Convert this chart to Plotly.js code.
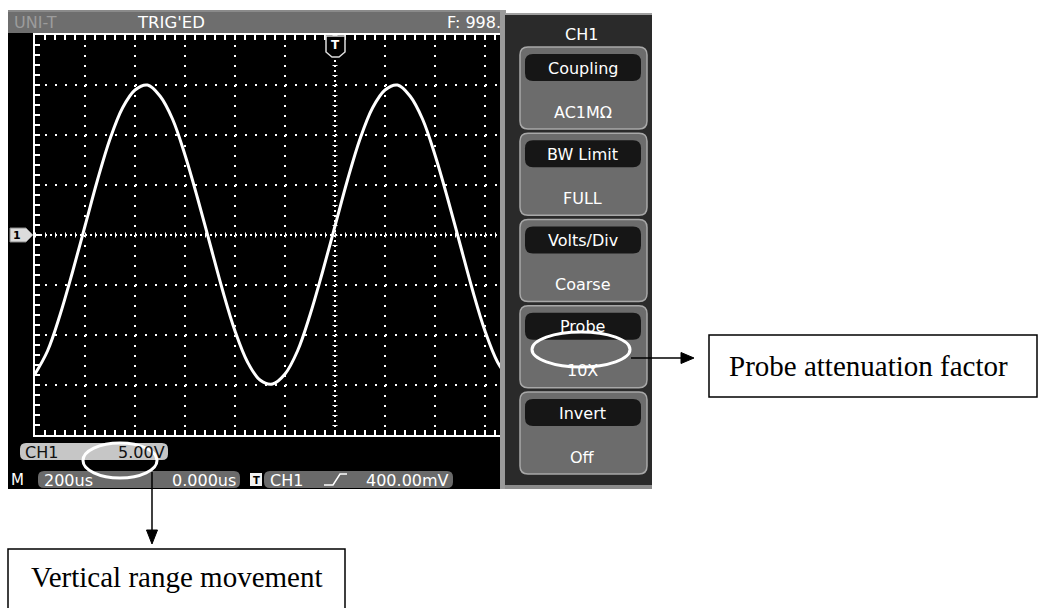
<!DOCTYPE html>
<html><head><meta charset="utf-8">
<script src="https://cdn.plot.ly/plotly-3.0.1.min.js"></script>
<style>html,body{margin:0;padding:0;background:#fff}#chart{width:1039px;height:608px}</style>
</head><body><div id="chart"></div>
<script>
// ---- data (time in microseconds, CH1 in volts) ----
const timeUs = [-1200,-1150,-1100,-1050,-1000,-950,-900,-850,-800,-750,-700,-650,-600,-550,-500,-450,-400,-350,-300,-250,-200,-150,-100,-50,0,50,100,150,200,250,300,350,400,450,500,550,600,650,700];
const ch1Volts = [-13.9,-11.6,-8.0,-3.7,0.9,5.5,9.6,12.7,14.5,15.0,13.9,11.6,8.0,3.7,-0.9,-5.5,-9.6,-12.7,-14.5,-14.9,-13.9,-11.6,-8.0,-3.7,0.9,5.5,9.6,12.7,14.5,15.0,13.9,11.6,8.0,3.7,-0.9,-5.5,-9.6,-12.7,-14.5];
const menuTitle = 'CH1';
const menuLabels = ['Coupling','BW Limit','Volts/Div','Probe','Invert'];
const menuValues = ['AC1MΩ','FULL','Coarse','10X','Off'];
const topBar = ['UNI-T', "TRIG'ED", 'F: 998.'];
const chScale = ['CH1','5.00V'];
const timebase = ['M','200us','0.000us'];
const trigInfo = ['T','CH1','400.00mV'];
const callouts = ['Probe attenuation factor','Vertical range movement'];

// ---- pixel -> paper helpers (plot area = scope grid) ----
const PL=35, PT=35, PR=500, PB=435;
const X = px => +((px-PL)/(PR-PL)).toFixed(5);
const Y = py => +((PB-py)/(PB-PT)).toFixed(5);
const P = (x,y) => X(x)+','+Y(y);
function rect(x0,y0,x1,y1,fill,line,lw,layer){
  return {type:'rect',xref:'paper',yref:'paper',x0:X(x0),x1:X(x1),y0:Y(y1),y1:Y(y0),
    fillcolor:fill,line:{color:line||'rgba(0,0,0,0)',width:lw||0},layer:layer||'below'};
}
function rrect(x0,y0,x1,y1,r,fill,line,lw,layer){
  const d='M'+P(x0+r,y0)+' L'+P(x1-r,y0)+' Q'+P(x1,y0)+' '+P(x1,y0+r)+' L'+P(x1,y1-r)+' Q'+P(x1,y1)+' '+P(x1-r,y1)+
    ' L'+P(x0+r,y1)+' Q'+P(x0,y1)+' '+P(x0,y1-r)+' L'+P(x0,y0+r)+' Q'+P(x0,y0)+' '+P(x0+r,y0)+' Z';
  return {type:'path',xref:'paper',yref:'paper',path:d,fillcolor:fill,line:{color:line||'rgba(0,0,0,0)',width:lw||0},layer:layer||'below'};
}
function path(pts,fill,line,lw,layer,close){
  let d='M'+P(pts[0][0],pts[0][1]);
  for(let i=1;i<pts.length;i++) d+=' L'+P(pts[i][0],pts[i][1]);
  if(close) d+=' Z';
  return {type:'path',xref:'paper',yref:'paper',path:d,fillcolor:fill||'rgba(0,0,0,0)',line:{color:line||'rgba(0,0,0,0)',width:lw||0},layer:layer||'above'};
}
function seg(x0,y0,x1,y1,color,w,dash,layer){
  return {type:'line',xref:'paper',yref:'paper',x0:X(x0),y0:Y(y0),x1:X(x1),y1:Y(y1),line:{color:color,width:w,dash:dash||'solid'},layer:layer||'above'};
}
function ellipse(x0,y0,x1,y1){
  return {type:'circle',xref:'paper',yref:'paper',x0:X(x0),x1:X(x1),y0:Y(y1),y1:Y(y0),line:{color:'#fff',width:3},fillcolor:'rgba(0,0,0,0)',layer:'above'};
}
const SCOPE='DejaVu Sans, Liberation Sans, sans-serif';
function txt(s,x,y,size,color,anchor,family){
  return {xref:'paper',yref:'paper',x:X(x),y:Y(y),text:s,showarrow:false,xanchor:anchor||'center',yanchor:'middle',
    font:{family:family||SCOPE,size:size,color:color}};
}

const shapes=[], ann=[];
// scope screen
shapes.push(rect(8,10,500,489,'#000'));
shapes.push(rect(8,10,502,33,'#6e6e6e'));
shapes.push(rect(8,10,502,12,'#8a8a8a'));
shapes.push(rect(500,10,506,489,'#9a9a9a'));
// right menu panel
shapes.push(rect(505,13,652,489,'#2a2a2a'));
shapes.push(rect(505,13,652,15,'#a0a0a0'));
shapes.push(rect(505,485,652,489,'#8c8c8c'));
ann.push(txt(menuTitle,582,34,16,'#fff'));
menuLabels.forEach((lab,i)=>{
  const t=47+i*86.25;
  shapes.push(rrect(520,t,647,t+82,8,'#6c6c6c','#a8a8a8',1.5));
  shapes.push(rrect(525,t+7,641,t+34,8,'#161616'));
  ann.push(txt(lab,583,t+21,16,'#fff'));
  ann.push(txt(menuValues[i],583,t+65,16,'#fff'));
});
// top bar texts
ann.push(txt(topBar[0],12,22,16,'#9c9c9c','left'));
ann.push(txt(topBar[1],171,22,16.5,'#fff'));
ann.push(txt(topBar[2],503,22,16,'#fff','right'));
// status rows
shapes.push(rrect(20,443,168,460,6,'#c6c6c6'));
ann.push(txt(chScale[0],23,452,16,'#111','left'));
ann.push(txt(chScale[1],167,452,16,'#111','right'));
ann.push(txt(timebase[0],18,480,15,'#fff'));
shapes.push(rrect(38,471,240,488,6,'#6a6a6a'));
ann.push(txt(timebase[1],42,480,16,'#fff','left'));
ann.push(txt(timebase[2],238,480,16,'#fff','right'));
shapes.push(rect(250,473,262,486,'#f2f2f2'));
ann.push(txt('<b>'+trigInfo[0]+'</b>',256,480,10,'#000'));
shapes.push(rrect(264,471,453,488,6,'#6a6a6a'));
ann.push(txt(trigInfo[1],268,480,16,'#fff','left'));
shapes.push(path([[324,485],[333,485],[340,474],[347,474]],null,'#fff',1.5,'below'));
ann.push(txt(trigInfo[2],451,480,16,'#fff','right'));
// center cross lines of the graticule
shapes.push(seg(35,235,500,235,'#fff',2,'2px,3px','between'));
shapes.push(seg(35,235,500,235,'#fff',5,'1px,9px','between'));
shapes.push(seg(335,35,335,435,'#fff',2,'2px,3px','between'));
shapes.push(seg(335,35,335,435,'#fff',5,'1px,9px','between'));
// channel marker "1" and trigger marker
shapes.push(path([[10,228],[26,228],[33,235],[26,242],[10,242]],'#dcdcdc','#888',1,'above',true));
ann.push(txt('<b>1</b>',17,235.5,11,'#000'));
shapes.push(path([[326,36],[345,36],[345,52],[339,57],[332,57],[326,52]],'#000','#ddd',1.5,'above',true));
ann.push(txt('<b>T</b>',335.5,45,12,'#fff'));
// callouts
shapes.push(ellipse(532,332,630,367));
shapes.push(ellipse(83,443,157,478));
shapes.push(seg(631,358,683,358,'#000',1.5));
shapes.push(path([[681,352.5],[694,358],[681,363.5]],'#000','#000',1,'above',true));
shapes.push(seg(152,472,152,532,'#000',1.5));
shapes.push(path([[146.5,530],[157.5,530],[152,544]],'#000','#000',1,'above',true));
shapes.push(rect(709,335,1037,397,'rgba(0,0,0,0)','#000',1.5,'above'));
shapes.push(rect(8,549,345,620,'rgba(0,0,0,0)','#000',1.5,'above'));
ann.push(txt(callouts[0],727,366,29,'#000','left','Liberation Serif, Times New Roman, serif'));
ann.push(txt(callouts[1],177,577,29,'#000','center','Liberation Serif, Times New Roman, serif'));

const axBase = {showgrid:true,gridcolor:'#fff',gridwidth:2,griddash:'2px,8px',showline:true,linecolor:'#fff',linewidth:2,
  ticks:'inside',ticklen:5,tickwidth:1.5,tickcolor:'#fff',showticklabels:false,zeroline:false,fixedrange:true};
const layout = {
  width:1039,height:608,autosize:false,
  margin:{l:PL,r:1039-PR,t:PT,b:608-PB,pad:0},
  paper_bgcolor:'#fff',plot_bgcolor:'#000',showlegend:false,
  xaxis:Object.assign({},axBase,{range:[-1200,660],tick0:-1200,dtick:200,mirror:'ticks',
    minor:{tick0:-1200,dtick:40,ticks:'inside',ticklen:5,tickwidth:1.5,tickcolor:'#fff',showgrid:false}}),
  yaxis:Object.assign({},axBase,{range:[-20,20],tick0:-20,dtick:5,mirror:false,
    minor:{tick0:-20,dtick:1,ticks:'inside',ticklen:5,tickwidth:1.5,tickcolor:'#fff',showgrid:false}}),
  shapes:shapes,annotations:ann
};
const trace = {x:timeUs,y:ch1Volts,type:'scatter',mode:'lines',line:{color:'#fff',width:3,shape:'spline',smoothing:1},hoverinfo:'skip'};
Plotly.newPlot('chart',[trace],layout,{staticPlot:true,displayModeBar:false});
</script>
</body></html>
